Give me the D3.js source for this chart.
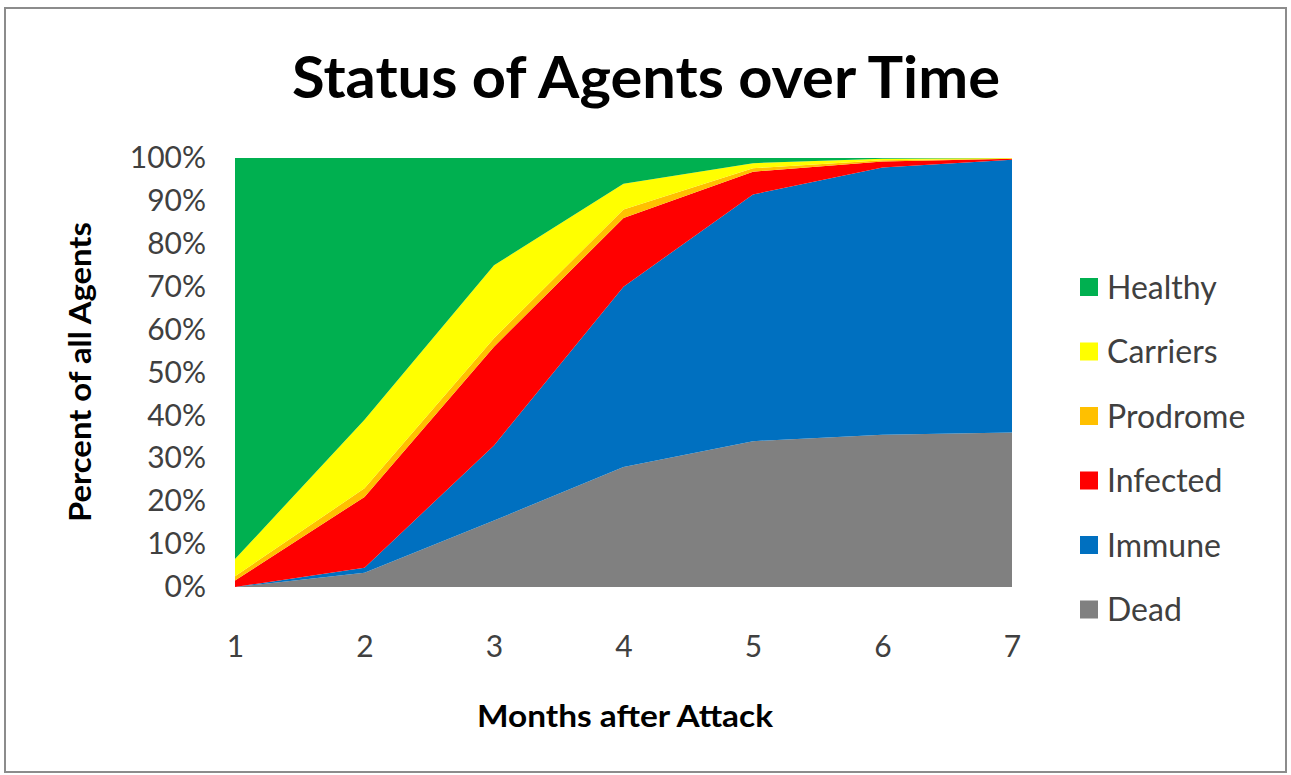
<!DOCTYPE html>
<html>
<head>
<meta charset="utf-8">
<script src="https://cdn.jsdelivr.net/npm/d3@7"></script>
<style>
  body { margin: 0; background: #fff; }
  svg { display: block; }
</style>
</head>
<body>
<svg id="chart"></svg>
<script>
// months after attack
var months = [1, 2, 3, 4, 5, 6, 7]

// percent of agents in each state
var dead     = [0, 3.3, 15.5, 28, 34, 35.5, 36]
var immune   = [0, 1.2, 17.5, 42, 57.5, 62.3, 63.6]
var infected = [1.5, 16.5, 23, 16, 5.3, 1.4, 0.2]
var prodrome = [1, 2, 2, 2, 0.8, 0.3, 0.1]
var carriers = [4, 16, 17, 6, 1.2, 0.3, 0.1]
var healthy  = [93.5, 61, 25, 6, 1.2, 0.2, 0]

var seriesNames = ["Dead", "Immune", "Infected", "Prodrome", "Carriers", "Healthy"]
var yTicks = [0, 10, 20, 30, 40, 50, 60, 70, 80, 90, 100]

const colors = {
    "Healthy"  : "#00b050",
    "Carriers" : "#ffff00",
    "Prodrome" : "#ffc000",
    "Infected" : "#ff0000",
    "Immune"   : "#0070c0",
    "Dead"     : "#808080"
}

var width = 1291, height = 775

var svg = d3.select("#chart")
            .attr("width", width)
            .attr("height", height)

var rows = months.map((m, i) => ({
    month: m,
    Dead: dead[i],
    Immune: immune[i],
    Infected: infected[i],
    Prodrome: prodrome[i],
    Carriers: carriers[i],
    Healthy: healthy[i]
}))

var font = "Lato, 'Open Sans', sans-serif"

// outer frame
svg.append("rect")
   .attr("x", 5).attr("y", 8)
   .attr("width", 1281).attr("height", 764)
   .attr("fill", "#fff")
   .attr("stroke", "#8c8c8c")
   .attr("stroke-width", 2)

var xScale = d3.scaleLinear()
               .domain([1, 7])
               .range([235, 1012])

var yScale = d3.scaleLinear()
               .domain([0, 100])
               .range([587, 158])

var stack = d3.stack().keys(seriesNames)
var layers = stack(rows)

var area = d3.area()
    .x(d => xScale(d.data.month))
    .y0(d => yScale(d[0]))
    .y1(d => yScale(d[1]))

svg.selectAll(".layer")
   .data(layers)
   .join("path")
   .attr("class", "layer")
   .attr("d", area)
   .attr("fill", d => colors[d.key])

// y axis
var yAxis = svg.append("g")
               .attr("transform", "translate(218,0)")
               .call(d3.axisLeft(yScale).tickValues(yTicks).tickSize(0).tickFormat(d => d + "%"))
yAxis.select(".domain").remove()
yAxis.selectAll("text")
     .attr("x", -12)
     .style("font-family", font)
     .style("font-size", "30px")
     .attr("fill", "#404040")

// x axis
var xAxis = svg.append("g")
               .attr("transform", "translate(0,633)")
               .call(d3.axisBottom(xScale).tickValues(months).tickSize(0).tickFormat(d3.format("d")))
xAxis.select(".domain").remove()
xAxis.selectAll("text")
     .attr("dy", "0.71em")
     .style("font-family", font)
     .style("font-size", "30px")
     .attr("fill", "#404040")

// title
svg.append("text")
   .attr("text-anchor", "middle")
   .attr("x", 646)
   .attr("y", 98)
   .attr("textLength", 708)
   .attr("lengthAdjust", "spacingAndGlyphs")
   .style("font-family", font)
   .style("font-weight", "bold")
   .style("font-size", "57px")
   .attr("fill", "#000")
   .text("Status of Agents over Time")

svg.append("text")
   .attr("text-anchor", "middle")
   .attr("x", 625)
   .attr("y", 727)
   .attr("textLength", 296)
   .attr("lengthAdjust", "spacingAndGlyphs")
   .style("font-family", font)
   .style("font-weight", "bold")
   .style("font-size", "31px")
   .attr("fill", "#000")
   .text("Months after Attack")

svg.append("text")
   .attr("text-anchor", "middle")
   .attr("transform", "translate(91,372) rotate(-90)")
   .attr("textLength", 300)
   .attr("lengthAdjust", "spacingAndGlyphs")
   .style("font-family", font)
   .style("font-weight", "bold")
   .style("font-size", "31px")
   .attr("fill", "#000")
   .text("Percent of all Agents")

// legend, top to bottom
var legendNames = seriesNames.slice().reverse()
var legend = svg.selectAll(".legend")
    .data(legendNames)
    .join("g")
    .attr("class", "legend")
    .attr("transform", (d, i) => `translate(1080,${287 + i * 64.5})`)

legend.append("rect")
      .attr("x", 0).attr("y", -9)
      .attr("width", 18).attr("height", 18)
      .attr("fill", d => colors[d])

legend.append("text")
      .attr("x", 27)
      .attr("dy", "0.36em")
      .style("font-family", font)
      .style("font-size", "32px")
      .attr("fill", "#404040")
      .text(d => d)
</script>
</body>
</html>
